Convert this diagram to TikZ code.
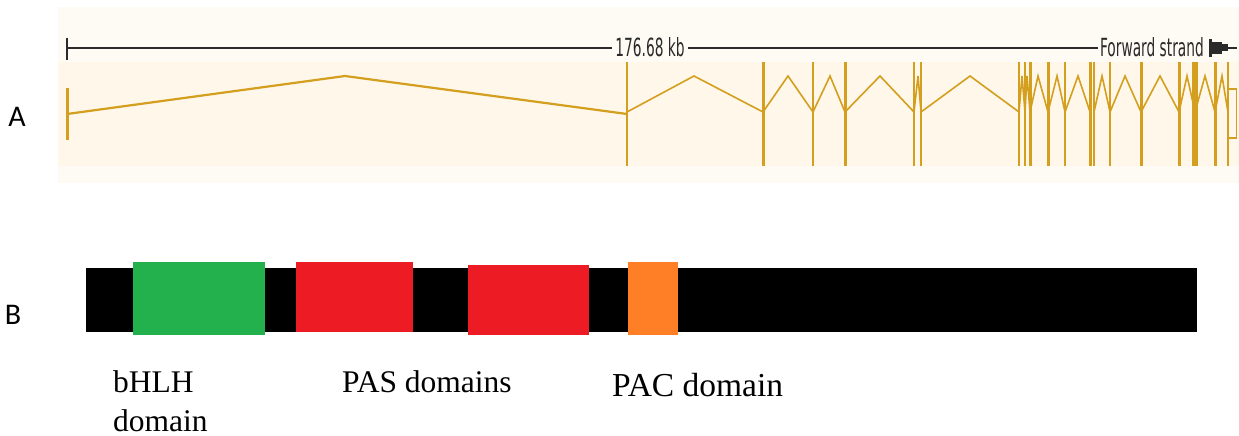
\documentclass[tikz,border=0pt]{standalone}
\usepackage{fontspec}
\setmainfont{Liberation Serif}
\newfontfamily\carlitofont{Carlito}
\newfontfamily\dvfont{DejaVu Sans}
\definecolor{bgouter}{HTML}{FDFBF4}
\definecolor{bginner}{HTML}{FEF7EA}
\definecolor{gold}{RGB}{212,158,30}
\definecolor{scaleink}{HTML}{2A2A2A}
\definecolor{bhlhgreen}{HTML}{22B14C}
\definecolor{pasred}{HTML}{ED1C24}
\definecolor{pacorange}{HTML}{FF7F27}
\tikzset{
  panellabel/.style={font=\carlitofont\fontsize{30}{32}\selectfont, inner sep=0pt},
  scaletext/.style={font=\dvfont\fontsize{25}{27}\selectfont, text=scaleink, fill=bgouter, inner sep=3pt},
  domtext/.style={font=\fontsize{31.5}{34}\selectfont, inner sep=0pt, anchor=base west},
  intron/.style={draw=gold, line width=1.6pt, line join=miter},
  exon/.style={fill=gold, draw=none}
}
\begin{document}
\begin{tikzpicture}[x=1pt,y=-1pt]
\useasboundingbox (0,0) rectangle (1239,436);
\fill[white] (0,0) rectangle (1239,436);
% panel A background
\fill[bgouter] (58,7) rectangle (1239,183);
\fill[bginner] (58,62) rectangle (1239,166);
% scale bar
\coordinate (sbL) at (67,48);
\coordinate (sbR) at (1237,48);
\draw[scaleink, line width=2pt] (sbL) -- (sbR);
\draw[scaleink, line width=1.6pt] (67,38) -- (67,60);
\node[scaletext] (kb) at (650,47) {\scalebox{0.55}[1]{176.68 kb}};
\node[scaletext, anchor=east, inner sep=2pt] (fs) at (1206,47) {\scalebox{0.55}[1]{Forward strand}};
% strand arrow icon
\fill[bgouter] (1206,38) rectangle (1229,58);
\fill[scaleink] (1209,39) rectangle (1211.5,57);
\fill[scaleink] (1211.5,42) rectangle (1222,54);
\fill[scaleink] (1222,44.5) rectangle (1228,51.5);
\draw[scaleink, line width=2pt] (1228,48) -- (sbR);
% gene: introns
\draw[intron, line width=2.2pt] (67,114) -- (345,76) -- (627,114);
\foreach \a/\p/\b in {627/694/763, 763/788/813, 813/830/845, 845/880/914, 914/918/921, 921/970/1019, 1019/1022/1025, 1025/1027/1030, 1030/1038/1048, 1048/1057/1065, 1065/1078/1090, 1094/1102/1110, 1110/1125/1141, 1141/1160/1179, 1179/1187/1195, 1195/1205/1215, 1215/1222/1228}
  \draw[intron] (\a,112) -- (\p,76) -- (\b,112);
% gene: exons
\fill[exon] (66,88) rectangle (68.5,140);
\foreach \x/\w in {627/1.3, 763/3, 813/1.3, 845/3, 914/2.5, 921/2.5, 1019/1.5, 1025/2.5, 1030/3, 1048/3, 1065/1.5, 1090/3, 1094/1.5, 1110/1.5, 1141/3, 1179/3, 1195/6.5, 1215/3, 1228/2}
  \fill[exon] ({\x-\w/2},62) rectangle ({\x+\w/2},166);
\draw[gold, line width=1.5pt] (1228,89) rectangle (1236.5,138);
% labels
\node[panellabel] (labA) at (17,117) {A};
\node[panellabel] (labB) at (13,315) {B};
% panel B protein
\fill[black] (86,268) rectangle (1197,332);
\fill[bhlhgreen] (133,262) rectangle (265,335);
\fill[pasred] (296,262) rectangle (413,332);
\fill[pasred] (468,265) rectangle (589,335);
\fill[pacorange] (628,262) rectangle (678,335);
% domain labels
\node[domtext] (bhlh1) at (113,392) {bHLH};
\node[domtext] (bhlh2) at (113,431) {domain};
\node[domtext] (pas) at (342,392) {PAS domains};
\node[domtext, font=\fontsize{33.5}{36}\selectfont] (pac) at (612,396) {PAC domain};
\end{tikzpicture}
\end{document}
